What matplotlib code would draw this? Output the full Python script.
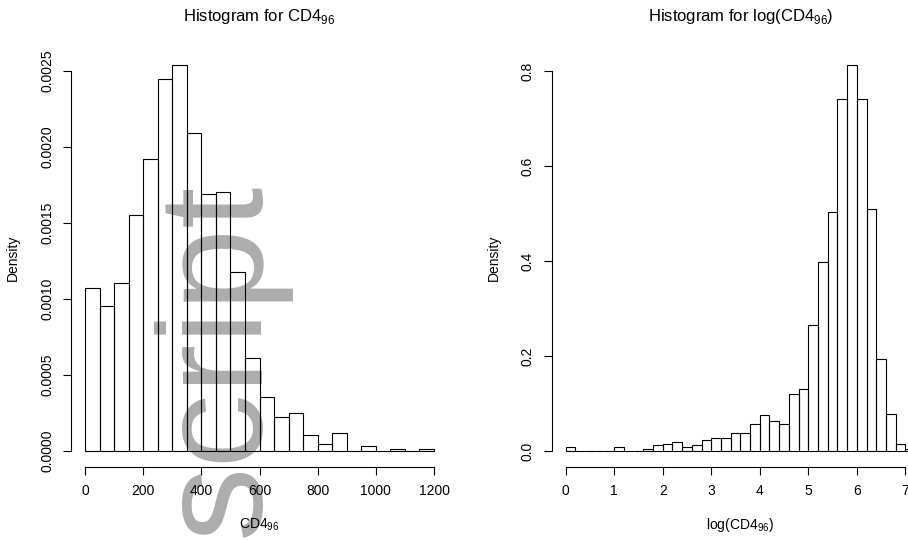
import numpy as np
import matplotlib
matplotlib.use("Agg")
import matplotlib.pyplot as plt

plt.rcParams['font.family'] = ['Liberation Sans', 'DejaVu Sans']
plt.rcParams['mathtext.fontset'] = 'custom'
plt.rcParams['mathtext.rm'] = 'Liberation Sans'

# ---- data ----
left_breaks = np.arange(0, 1250, 50)
left_density = [0.001075, 0.000956, 0.001103, 0.001550, 0.001923, 0.002445,
                0.002535, 0.002088, 0.001689, 0.001700, 0.001178, 0.000610,
                0.000357, 0.000226, 0.000252, 0.000105, 0.000046, 0.000121,
                0.0, 0.000031, 0.0, 0.000015, 0.0, 0.000015]
left_yticks = [0.0, 0.0005, 0.0010, 0.0015, 0.0020, 0.0025]
left_yticklabels = ["0.0000", "0.0005", "0.0010", "0.0015", "0.0020", "0.0025"]
left_xticks = [0, 200, 400, 600, 800, 1000, 1200]

right_breaks = np.round(np.arange(0, 7.4, 0.2), 1)
right_density = [0.0077, 0.0, 0.0, 0.0, 0.0, 0.0077, 0.0, 0.0, 0.0035, 0.0119,
                 0.0154, 0.0190, 0.0077, 0.0119, 0.0225, 0.0267, 0.0267, 0.0372,
                 0.0372, 0.0561, 0.0751, 0.0639, 0.0561, 0.1193, 0.1312, 0.2646,
                 0.3986, 0.5032, 0.7410, 0.8120, 0.7410, 0.5100, 0.1937, 0.0786,
                 0.0154, 0.0035]
right_yticks = [0.0, 0.2, 0.4, 0.6, 0.8]
right_yticklabels = ["0.0", "0.2", "0.4", "0.6", "0.8"]
right_xticks = [0, 1, 2, 3, 4, 5, 6, 7]

left_title = "Histogram for CD4$_{\\mathregular{96}}$"
right_title = "Histogram for log(CD4$_{\\mathregular{96}}$)"
left_xlabel = "CD4$_{\\mathregular{96}}$"
right_xlabel = "log(CD4$_{\\mathregular{96}}$)"
ylabel = "Density"
watermark = "script"

W, H = 908, 540
fig = plt.figure(figsize=(W / 100, H / 100), dpi=100)

def px(x0, y0, x1, y1):
    return [x0 / W, 1 - y1 / H, (x1 - x0) / W, (y1 - y0) / H]

ax1 = fig.add_axes(px(71, 50, 448, 466.5))
ax2 = fig.add_axes(px(551.7, 50, 929, 466.5))

def hist_panel(ax, breaks, dens, xticks, yticks, yticklabels, title, xlabel):
    breaks = np.asarray(breaks, dtype=float)
    dens = np.asarray(dens, dtype=float)
    width = breaks[1] - breaks[0]
    lefts = breaks[:len(dens)]
    ax.bar(lefts, dens, width=width, align='edge', facecolor='none',
           edgecolor='black', linewidth=0.8, zorder=2)
    x0, x1 = lefts[0], lefts[-1] + width
    ymax = dens.max()
    ax.set_xlim(x0 - 0.04 * (x1 - x0), x1 + 0.04 * (x1 - x0))
    ax.set_ylim(-0.04 * ymax, ymax * 1.04)
    for s in ['top', 'right']:
        ax.spines[s].set_visible(False)
    ax.spines['left'].set_bounds(yticks[0], yticks[-1])
    ax.spines['bottom'].set_bounds(xticks[0], xticks[-1])
    ax.spines['left'].set_linewidth(0.8)
    ax.spines['bottom'].set_linewidth(0.8)
    ax.set_xticks(xticks)
    ax.set_xticklabels([str(t) for t in xticks])
    ax.set_yticks(yticks)
    ax.set_yticklabels(yticklabels, rotation=90, ha='center', va='center')
    ax.tick_params(axis='both', direction='out', length=6.1, width=0.8,
                   labelsize=10)
    ax.tick_params(axis='x', pad=6.3)
    ax.tick_params(axis='y', pad=11.0)
    ax.set_facecolor('none')
    bb = ax.get_position()
    cx = bb.x0 + bb.width / 2
    fig.text(cx, 1 - 20.7 / H, title, ha='center', va='baseline', fontsize=12)
    fig.text(cx, 1 - 529 / H, xlabel, ha='center', va='baseline', fontsize=10)
    cy = bb.y0 + bb.height / 2
    fig.text(bb.x0 - 54 / W, cy, ylabel, rotation=90, rotation_mode='anchor',
             ha='center', va='baseline', fontsize=10)

hist_panel(ax1, left_breaks, left_density, left_xticks, left_yticks,
           left_yticklabels, left_title, left_xlabel)
hist_panel(ax2, right_breaks, right_density, right_xticks, right_yticks,
           right_yticklabels, right_title, right_xlabel)

ax1.text(259 / W, 1 - 359 / H, watermark, transform=fig.transFigure,
         rotation=90, rotation_mode='anchor', ha='center', va='baseline',
         fontsize=107, color='#adadad', zorder=1, clip_on=False)

fig.savefig("out.png", dpi=100)
